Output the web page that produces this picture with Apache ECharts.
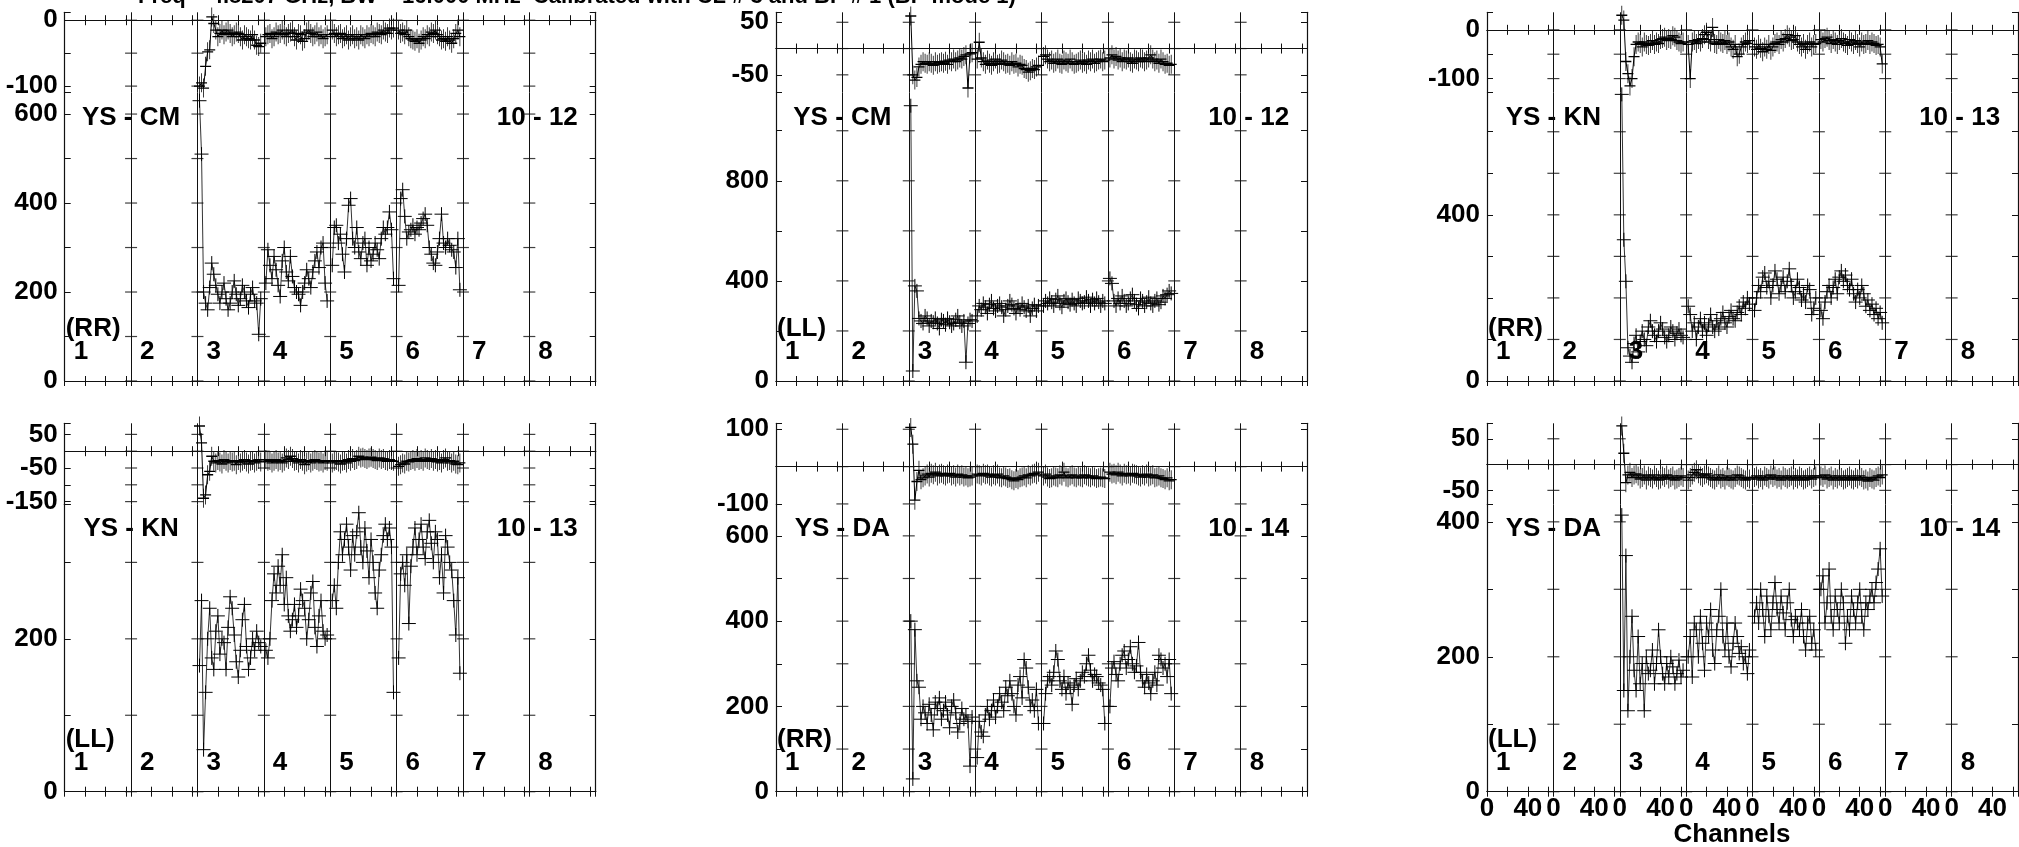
<!DOCTYPE html>
<html><head><meta charset="utf-8">
<script src="https://cdn.jsdelivr.net/npm/echarts@6/dist/echarts.min.js"></script>
<style>html,body{margin:0;padding:0;background:#fff}#c{width:2019px;height:847px}</style>
</head><body><div id="c"></div>
<script>
const TITLE = 'Freq = 4.8207 GHz, BW = 16.000 MHz  Calibrated with CL # 3 and BP # 1 (BP mode 1)';
const IF_LABELS = ['1','2','3','4','5','6','7','8'];
const IF_WITH_DATA = [3, 4, 5, 6];
const CHANNELS = [2,4,6,8,10,12,14,16,18,20,22,24,26,28,30,32,34,36,38,40,42,44,46,48,50,52,54,56,58,60,62];
const X_TICK_LABELS = ['0', '40'];
const X_NAME = 'Channels';

// ---- YS - CM (RR) ----
const CM_RR_PHASE = [
 [-100,-95,-103,-70,-48,-45,5,-5,-15,-25,-20,-15,-22,-18,-15,-20,-25,-22,-18,-20,-25,-30,-22,-25,-28,-30,-22,-30,-38,-40,-35],
 [-25,-22,-20,-28,-25,-18,-22,-20,-15,-22,-25,-20,-18,-15,-25,-30,-20,-22,-32,-28,-18,-15,-20,-25,-22,-18,-25,-22,-28,-25,-22],
 [-15,-20,-25,-22,-20,-28,-25,-22,-30,-25,-22,-28,-25,-30,-22,-25,-28,-22,-25,-20,-22,-25,-18,-20,-22,-15,-18,-20,-12,-15,-12],
 [-15,-20,-18,-22,-15,-25,-28,-30,-32,-28,-35,-30,-25,-28,-22,-25,-18,-20,-15,-22,-25,-30,-28,-32,-25,-30,-35,-28,-20,-15,-25]];
const CM_RR_AMP = [
 [630,510,200,175,160,210,265,240,215,195,175,200,220,185,160,175,200,225,195,170,185,215,200,180,165,195,210,180,175,105,185],
 [220,295,260,230,280,250,215,190,270,300,245,225,280,235,210,200,195,170,200,220,250,230,210,245,270,290,255,300,310,220,180],
 [260,345,350,310,330,285,245,320,395,410,320,300,345,290,275,310,320,260,300,270,285,310,295,275,320,345,330,345,380,340,230],
 [215,410,430,370,320,335,340,350,330,345,340,355,365,375,350,300,285,265,260,290,320,375,310,300,320,305,295,290,255,320,205]];
// ---- YS - CM (LL) ----
const CM_LL_PHASE = [
 [62,-50,-60,-55,-35,-30,-25,-28,-30,-25,-28,-32,-25,-30,-27,-25,-28,-24,-30,-22,-25,-20,-25,-22,-18,-20,-15,-12,-75,-10,-8],
 [-20,12,-18,-25,-30,-22,-28,-32,-25,-20,-30,-28,-22,-25,-30,-28,-32,-25,-30,-28,-35,-30,-32,-38,-40,-45,-42,-38,-40,-35,-32],
 [-15,-12,-20,-25,-22,-28,-25,-20,-28,-30,-22,-25,-28,-20,-25,-30,-28,-25,-22,-28,-25,-30,-22,-25,-20,-28,-25,-22,-20,-25,-22],
 [-18,-12,-20,-15,-22,-18,-25,-20,-22,-18,-25,-28,-20,-22,-25,-18,-20,-25,-22,-18,-12,-20,-25,-22,-28,-20,-25,-30,-28,-32,-30]];
const CM_LL_AMP = [
 [1100,40,380,360,250,240,230,260,250,220,240,235,250,230,210,245,240,225,250,235,220,230,245,260,235,220,240,75,230,245,240],
 [260,300,285,310,295,270,305,320,290,280,300,310,295,260,285,300,320,305,290,270,300,285,310,295,280,300,260,290,305,280,300],
 [300,320,310,330,315,300,325,340,310,295,320,330,315,305,325,310,300,330,320,310,315,335,320,300,325,310,330,315,300,320,310],
 [410,390,320,300,330,310,340,320,300,310,330,345,320,305,290,330,320,300,315,335,310,300,320,330,305,315,340,330,345,360,350]];
// ---- YS - KN (RR) ----
const KN_RR_PHASE = [
 [30,20,-65,-90,-115,-100,-55,-30,-25,-28,-35,-25,-30,-32,-28,-22,-30,-25,-28,-20,-18,-15,-22,-18,-20,-12,-15,-22,-25,-28,-25],
 [-30,-100,-25,-22,-28,-20,-25,-18,-10,-5,-20,-25,5,-28,-30,-20,-25,-28,-22,-30,-25,-35,-40,-30,-55,-50,-35,-30,-25,-28,-22],
 [-35,-40,-30,-38,-45,-35,-40,-30,-42,-35,-28,-25,-30,-20,-25,-18,-10,-15,-22,-20,-12,-25,-30,-35,-28,-40,-30,-25,-35,-30,-28],
 [-20,-25,-18,-15,-22,-28,-20,-25,-30,-22,-18,-25,-28,-32,-20,-25,-30,-22,-28,-35,-25,-30,-28,-22,-30,-25,-28,-32,-30,-35,-70]];
const KN_RR_AMP = [
 [690,340,240,80,60,45,90,110,70,95,120,100,85,130,145,120,110,95,120,140,125,105,95,110,130,120,100,115,125,110,105],
 [180,160,120,140,100,130,150,120,140,110,135,160,130,120,145,125,150,165,140,130,155,170,150,145,165,180,160,190,175,200,185],
 [170,200,230,215,250,260,225,240,200,230,265,245,210,230,250,215,240,270,230,200,215,245,225,195,210,190,230,220,160,175,200],
 [170,150,190,215,230,200,225,245,210,250,265,240,255,230,220,245,210,190,220,200,230,210,180,195,170,185,160,175,150,165,140]];
// ---- YS - KN (LL) ----
const KN_LL_PHASE = [
 [75,25,-140,-130,-70,-60,-15,-30,-35,-28,-32,-38,-25,-30,-35,-28,-32,-30,-40,-28,-35,-30,-25,-32,-38,-30,-28,-35,-30,-25,-32],
 [-25,-30,-28,-35,-30,-25,-32,-28,-35,-30,-20,-25,-15,-22,-30,-28,-35,-25,-30,-40,-32,-28,-35,-30,-25,-28,-32,-30,-35,-28,-30],
 [-35,-30,-28,-32,-38,-30,-28,-35,-25,-30,-22,-28,-25,-15,-20,-18,-22,-25,-20,-18,-22,-25,-28,-20,-25,-22,-28,-30,-25,-28,-30],
 [-45,-40,-35,-38,-30,-32,-28,-25,-30,-22,-28,-25,-30,-20,-25,-28,-22,-30,-25,-32,-28,-35,-25,-20,-30,-28,-35,-30,-38,-40,-35]];
const KN_LL_AMP = [
 [165,250,55,130,200,240,175,160,210,230,180,200,195,160,215,255,240,205,170,150,185,225,245,190,160,175,200,185,210,195,190],
 [185,175,200,250,285,260,295,270,310,245,280,230,210,225,245,215,230,265,250,240,200,225,260,275,215,190,230,250,210,200,205],
 [250,270,240,300,340,310,330,350,320,290,335,310,340,365,320,300,345,315,280,330,300,260,240,290,310,335,350,330,345,320,130],
 [175,285,300,270,310,220,295,320,345,310,330,350,320,305,340,355,325,300,340,330,280,310,260,335,320,300,290,250,205,280,155]];
// ---- YS - DA (RR) ----
const DA_RR_PHASE = [
 [105,60,-90,-40,-10,-35,-30,-25,-20,-28,-18,-22,-15,-25,-20,-18,-22,-25,-20,-18,-25,-22,-28,-20,-25,-22,-28,-25,-30,-28,-25],
 [-20,-22,-25,-18,-22,-20,-25,-28,-22,-25,-20,-28,-30,-25,-28,-32,-30,-35,-38,-32,-35,-30,-28,-25,-30,-22,-25,-20,-18,-22,-15],
 [-25,-20,-28,-32,-30,-25,-28,-30,-22,-25,-15,-28,-30,-25,-22,-28,-30,-25,-28,-30,-22,-25,-28,-30,-25,-28,-32,-30,-28,-30,-32],
 [-15,-20,-18,-22,-15,-20,-25,-18,-22,-20,-25,-18,-20,-22,-25,-28,-22,-25,-20,-28,-25,-22,-30,-28,-25,-30,-32,-35,-30,-38,-35]];
const DA_RR_AMP = [
 [400,30,380,260,245,170,200,185,160,205,180,145,210,195,220,170,190,210,180,150,200,215,185,140,160,195,170,180,165,60,175],
 [80,165,140,130,180,200,170,190,215,175,200,230,210,190,245,225,260,230,200,180,250,270,220,310,290,245,200,215,190,240,160],
 [160,230,260,270,250,280,330,310,260,240,270,230,255,245,205,250,265,240,260,280,270,300,320,285,260,275,270,255,250,240,160],
 [200,290,305,275,260,300,320,330,290,310,340,300,280,295,350,280,260,245,275,255,230,260,280,250,320,310,290,300,270,310,230]];
// ---- YS - DA (LL) ----
const DA_LL_PHASE = [
 [75,22,-35,-20,-15,-25,-20,-18,-22,-28,-25,-20,-30,-22,-25,-28,-20,-25,-30,-28,-22,-25,-20,-28,-25,-22,-30,-28,-25,-22,-25],
 [-30,-25,-20,-15,-10,-18,-22,-25,-20,-18,-22,-25,-28,-30,-25,-20,-28,-25,-30,-22,-25,-28,-30,-25,-20,-22,-25,-28,-30,-25,-28],
 [-25,-22,-28,-25,-30,-22,-25,-28,-20,-25,-22,-28,-25,-30,-22,-25,-28,-25,-22,-30,-25,-28,-22,-25,-30,-28,-25,-22,-28,-25,-22],
 [-22,-25,-20,-28,-25,-22,-30,-25,-28,-22,-25,-30,-28,-25,-22,-28,-30,-25,-28,-22,-25,-30,-28,-32,-25,-28,-30,-25,-22,-25,-20]];
const DA_LL_AMP = [
 [410,150,350,120,200,260,180,150,230,160,190,120,200,175,180,210,160,190,240,200,175,160,190,170,200,185,160,175,195,170,180],
 [200,230,170,250,240,200,260,220,180,250,230,270,210,190,240,260,300,230,210,250,200,185,220,250,230,205,215,190,200,175,210],
 [260,280,250,300,270,230,290,260,240,280,310,270,250,290,265,240,280,300,255,230,260,250,240,270,230,210,250,260,220,240,210],
 [300,320,250,280,330,260,240,290,270,250,300,280,220,260,240,290,270,250,280,300,260,240,280,270,290,300,280,310,330,360,290]];

// ---- axis ranges and tick labels per panel ----
const CM_RR_PH_RANGE = [-110, 12], CM_RR_PH_LABELS = [0, -100];
const CM_RR_AMP_RANGE = [0, 648], CM_RR_AMP_LABELS = [0, 200, 400, 600];
const CM_LL_PH_RANGE = [-84, 69], CM_LL_PH_LABELS = [50, -50];
const CM_LL_AMP_RANGE = [0, 1152], CM_LL_AMP_LABELS = [0, 400, 800];
const KN_RR_PH_RANGE = [-129, 36], KN_RR_PH_LABELS = [0, -100];
const KN_RR_AMP_RANGE = [0, 694], KN_RR_AMP_LABELS = [0, 400];
const KN_LL_PH_RANGE = [-158, 83], KN_LL_PH_LABELS = [50, -50, -150];
const KN_LL_AMP_RANGE = [0, 376], KN_LL_AMP_LABELS = [0, 200];
const DA_RR_PH_RANGE = [-101, 116], DA_RR_PH_LABELS = [100, -100];
const DA_RR_AMP_RANGE = [0, 674], DA_RR_AMP_LABELS = [0, 200, 400, 600];
const DA_LL_PH_RANGE = [-77, 80], DA_LL_PH_LABELS = [50, -50];
const DA_LL_AMP_RANGE = [0, 426], DA_LL_AMP_LABELS = [0, 200, 400];

// ---- layout ----
const FONT = '"Liberation Sans", Arial, sans-serif';
const FS = 26;
const NCH = 65, NIF = 8;
const COL_LEFT = [64.7, 776, 1487];
const PANEL_W = 531;
const ROWS = [{top: 12.3, split: 92.7, bottom: 381}, {top: 423.3, split: 504.3, bottom: 791.7}];
const PLUS = 'path://M0,5L10,5M5,0L5,10';

const PANELS = [
 {col:0,row:0,base:'YS - CM',time:'10 - 12',pol:'(RR)',ph:CM_RR_PHASE,amp:CM_RR_AMP,phR:CM_RR_PH_RANGE,phStep:50,phLab:CM_RR_PH_LABELS,ampR:CM_RR_AMP_RANGE,ampStep:100,ampLab:CM_RR_AMP_LABELS},
 {col:1,row:0,base:'YS - CM',time:'10 - 12',pol:'(LL)',ph:CM_LL_PHASE,amp:CM_LL_AMP,phR:CM_LL_PH_RANGE,phStep:50,phLab:CM_LL_PH_LABELS,ampR:CM_LL_AMP_RANGE,ampStep:200,ampLab:CM_LL_AMP_LABELS},
 {col:2,row:0,base:'YS - KN',time:'10 - 13',pol:'(RR)',ph:KN_RR_PHASE,amp:KN_RR_AMP,phR:KN_RR_PH_RANGE,phStep:50,phLab:KN_RR_PH_LABELS,ampR:KN_RR_AMP_RANGE,ampStep:100,ampLab:KN_RR_AMP_LABELS},
 {col:0,row:1,base:'YS - KN',time:'10 - 13',pol:'(LL)',ph:KN_LL_PHASE,amp:KN_LL_AMP,phR:KN_LL_PH_RANGE,phStep:50,phLab:KN_LL_PH_LABELS,ampR:KN_LL_AMP_RANGE,ampStep:100,ampLab:KN_LL_AMP_LABELS},
 {col:1,row:1,base:'YS - DA',time:'10 - 14',pol:'(RR)',ph:DA_RR_PHASE,amp:DA_RR_AMP,phR:DA_RR_PH_RANGE,phStep:100,phLab:DA_RR_PH_LABELS,ampR:DA_RR_AMP_RANGE,ampStep:100,ampLab:DA_RR_AMP_LABELS},
 {col:2,row:1,base:'YS - DA',time:'10 - 14',pol:'(LL)',ph:DA_LL_PHASE,amp:DA_LL_AMP,phR:DA_LL_PH_RANGE,phStep:50,phLab:DA_LL_PH_LABELS,ampR:DA_LL_AMP_RANGE,ampStep:100,ampLab:DA_LL_AMP_LABELS,xLabels:true}
];

const X_CATS = Array.from({length: NIF * NCH + 1}, (_, i) => String(i));
const grids = [], xAxes = [], yAxes = [], series = [], graphics = [];
const AX = '#111';

function addGrid(left, top, h, yr, step, labs, xLab, zeroLine) {
  const gi = grids.length;
  grids.push({left: left, top: top, width: PANEL_W, height: h, containLabel: false});
  const tickInt = (i) => (i % NCH) % 20 === 0;
  const base = {type: 'category', gridIndex: gi, data: X_CATS, boundaryGap: false,
    axisLine: {show: true, lineStyle: {color: AX, width: 1.2}},
    axisTick: {show: true, inside: true, length: 5, interval: tickInt, lineStyle: {color: AX, width: 1}},
    axisLabel: {show: false}, splitLine: {show: false}};
  const xb = Object.assign({}, base, {position: 'bottom',
    splitLine: {show: true, interval: (i) => i % NCH === 0 && i > 0 && i < NIF * NCH, lineStyle: {color: AX, width: 1}}});
  if (xLab) {
    xb.axisLabel = {show: true, interval: (i) => i < NIF * NCH && X_TICK_LABELS.indexOf(String(i % NCH)) >= 0,
      formatter: (v) => String(Number(v) % NCH), margin: 4, color: '#000', fontFamily: FONT, fontWeight: 'bold', fontSize: FS};
  }
  xAxes.push(xb);
  xAxes.push(Object.assign({}, base, {position: 'top'}));
  const ybase = {type: 'value', gridIndex: gi, min: yr[0], max: yr[1], minInterval: step, maxInterval: step, splitNumber: 30,
    axisLine: {show: true, lineStyle: {color: AX, width: 1.2}},
    axisTick: {show: true, inside: true, length: 6, lineStyle: {color: AX, width: 1}}, splitLine: {show: false}};
  yAxes.push(Object.assign({}, ybase, {position: 'left',
    axisLabel: {show: true, margin: 7, formatter: (v) => labs.indexOf(Math.round(v)) >= 0 && Math.abs(v - Math.round(v)) < 1e-6 ? String(Math.round(v)) : '',
      color: '#000', fontFamily: FONT, fontWeight: 'bold', fontSize: FS}}));
  yAxes.push(Object.assign({}, ybase, {position: 'right', axisLabel: {show: false}}));
  const pts = [];
  for (let b = 1; b < NIF; b++) {
    for (let v = Math.ceil(yr[0] / step) * step; v <= yr[1]; v += step) pts.push([b * NCH, v]);
  }
  const s = {type: 'scatter', xAxisIndex: 2 * gi, yAxisIndex: 2 * gi, data: pts, symbol: 'rect', symbolSize: [12, 1.2],
    itemStyle: {color: AX}, silent: true, animation: false, z: 1};
  if (zeroLine) {
    s.markLine = {silent: true, symbol: 'none', label: {show: false}, animation: false,
      lineStyle: {color: AX, type: 'solid', width: 1}, data: [{yAxis: 0}]};
  }
  series.push(s);
  return gi;
}

function addData(gi, arrs, size, lw) {
  arrs.forEach((arr, k) => {
    const ifn = IF_WITH_DATA[k];
    series.push({type: 'line', xAxisIndex: 2 * gi, yAxisIndex: 2 * gi,
      data: CHANNELS.map((c, j) => [(ifn - 1) * NCH + c, arr[j]]),
      symbol: PLUS, symbolSize: size, showSymbol: true, showAllSymbol: true,
      lineStyle: {color: '#000', width: lw},
      itemStyle: {color: 'transparent', borderColor: '#000', borderWidth: 1},
      animation: false, silent: true, z: 3});
  });
}

function txt(text, x, y, align, valign, fs) {
  graphics.push({type: 'text', silent: true, style: {text: text, x: x, y: y, fill: '#000',
    font: 'bold ' + (fs || FS) + 'px ' + FONT, textAlign: align || 'left', textVerticalAlign: valign || 'middle'}});
}

const IFW = PANEL_W / NIF;
PANELS.forEach((p) => {
  const L = COL_LEFT[p.col], R = ROWS[p.row];
  const gp = addGrid(L, R.top, R.split - R.top, p.phR, p.phStep, p.phLab, false, true);
  addData(gp, p.ph, [11, 19], 1);
  const ga = addGrid(L, R.split, R.bottom - R.split, p.ampR, p.ampStep, p.ampLab, !!p.xLabels, false);
  addData(ga, p.amp, [14, 14], 0.8);
  txt(p.base, L + IFW, R.split + 25, 'center');
  txt(p.time, L + 7 * IFW + 8, R.split + 25, 'center');
  txt(p.pol, L + 1, R.bottom - 52, 'left');
  IF_LABELS.forEach((lab, i) => txt(lab, L + i * IFW + 9, R.bottom - 29, 'left'));
});
txt(X_NAME, 1732, 835, 'center');
txt(TITLE, 138, 8, 'left', 'bottom', 22);

const chart = echarts.init(document.getElementById('c'), null, {renderer: 'canvas'});
chart.setOption({animation: false, backgroundColor: '#fff', grid: grids, xAxis: xAxes, yAxis: yAxes, series: series, graphic: graphics});
</script></body></html>
